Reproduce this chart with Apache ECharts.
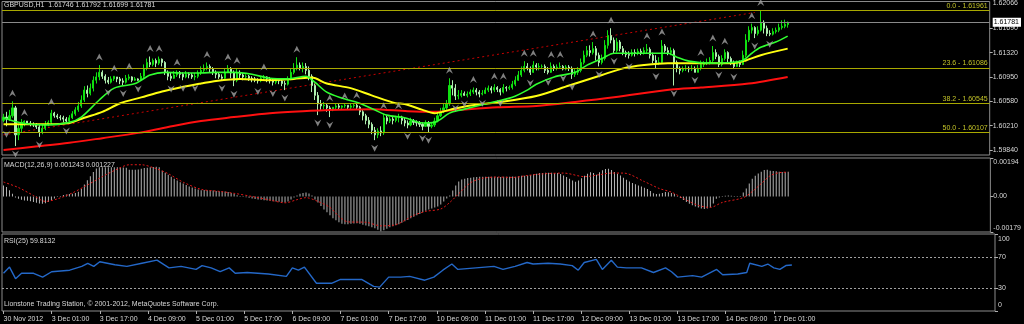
<!DOCTYPE html>
<html><head><meta charset="utf-8">
<script src="https://cdn.jsdelivr.net/npm/echarts@6/dist/echarts.min.js"></script>
<style>html,body{margin:0;padding:0;background:#000;}#c{width:1024px;height:324px;}</style>
</head><body><div id="c"></div>
<script>
const symbolName = 'GBPUSD', period = 'H1';
const timeLabels = ['30 Nov 2012','3 Dec 01:00','3 Dec 17:00','4 Dec 09:00','5 Dec 01:00','5 Dec 17:00','6 Dec 09:00','7 Dec 01:00','7 Dec 17:00','10 Dec 09:00','11 Dec 01:00','11 Dec 17:00','12 Dec 09:00','13 Dec 01:00','13 Dec 17:00','14 Dec 09:00','17 Dec 01:00'];
const labelStep = 16;
const slotCount = 330;

const opens = [1.6029,1.6034,1.6031,1.6036,1.6048,1.6007,1.6017,1.6026,1.6028,1.6025,
1.6023,1.6022,1.6019,1.6011,1.6017,1.6023,1.6026,1.6040,1.6036,1.6034,
1.6033,1.6031,1.6028,1.6033,1.6039,1.6045,1.6051,1.6060,1.6075,1.6070,
1.6078,1.6090,1.6095,1.6102,1.6096,1.6090,1.6087,1.6092,1.6095,1.6092,
1.6089,1.6087,1.6093,1.6095,1.6090,1.6092,1.6090,1.6096,1.6108,1.6117,
1.6114,1.6120,1.6116,1.6122,1.6117,1.6102,1.6096,1.6093,1.6098,1.6102,
1.6099,1.6095,1.6099,1.6098,1.6095,1.6096,1.6101,1.6105,1.6108,1.6111,
1.6107,1.6102,1.6099,1.6095,1.6093,1.6102,1.6108,1.6101,1.6090,1.6102,
1.6098,1.6095,1.6096,1.6093,1.6092,1.6090,1.6089,1.6093,1.6095,1.6092,
1.6090,1.6087,1.6090,1.6089,1.6085,1.6084,1.6092,1.6102,1.6108,1.6113,
1.6108,1.6111,1.6105,1.6096,1.6082,1.6067,1.6054,1.6051,1.6052,1.6048,
1.6045,1.6049,1.6051,1.6049,1.6051,1.6052,1.6049,1.6051,1.6052,1.6049,
1.6042,1.6036,1.6029,1.6023,1.6014,1.6007,1.6013,1.6010,1.6033,1.6028,
1.6031,1.6029,1.6033,1.6034,1.6029,1.6025,1.6022,1.6028,1.6026,1.6025,
1.6023,1.6020,1.6025,1.6020,1.6022,1.6028,1.6036,1.6042,1.6048,1.6054,
1.6082,1.6078,1.6066,1.6067,1.6070,1.6067,1.6069,1.6072,1.6075,1.6072,
1.6069,1.6070,1.6075,1.6078,1.6075,1.6079,1.6076,1.6072,1.6079,1.6078,
1.6079,1.6084,1.6090,1.6098,1.6105,1.6111,1.6108,1.6102,1.6113,1.6110,
1.6111,1.6111,1.6105,1.6102,1.6111,1.6108,1.6110,1.6111,1.6107,1.6110,
1.6108,1.6099,1.6102,1.6105,1.6117,1.6128,1.6135,1.6132,1.6138,1.6128,
1.6117,1.6123,1.6143,1.6158,1.6151,1.6135,1.6148,1.6138,1.6132,1.6129,
1.6128,1.6132,1.6131,1.6134,1.6132,1.6135,1.6137,1.6128,1.6120,1.6117,
1.6117,1.6142,1.6135,1.6132,1.6135,1.6117,1.6108,1.6105,1.6107,1.6108,
1.6107,1.6108,1.6102,1.6108,1.6114,1.6117,1.6117,1.6120,1.6132,1.6126,
1.6114,1.6123,1.6132,1.6123,1.6117,1.6111,1.6116,1.6114,1.6128,1.6151,
1.6166,1.6170,1.6161,1.6166,1.6178,1.6169,1.6161,1.6160,1.6164,1.6166,
1.6170,1.6172,1.61746];

const closes = [1.6034,1.6031,1.6036,1.6048,1.6007,1.6017,1.6026,1.6028,1.6025,1.6023,
1.6022,1.6019,1.6011,1.6017,1.6023,1.6026,1.6040,1.6036,1.6034,1.6033,
1.6031,1.6028,1.6033,1.6039,1.6045,1.6051,1.6060,1.6075,1.6070,1.6078,
1.6090,1.6095,1.6102,1.6096,1.6090,1.6087,1.6092,1.6096,1.6092,1.6089,
1.6087,1.6093,1.6095,1.6090,1.6092,1.6090,1.6096,1.6108,1.6117,1.6114,
1.6120,1.6116,1.6122,1.6117,1.6102,1.6096,1.6093,1.6098,1.6102,1.6099,
1.6095,1.6099,1.6098,1.6095,1.6096,1.6101,1.6105,1.6108,1.6111,1.6107,
1.6102,1.6099,1.6095,1.6093,1.6102,1.6108,1.6101,1.6090,1.6102,1.6098,
1.6095,1.6096,1.6093,1.6092,1.6090,1.6089,1.6093,1.6095,1.6092,1.6090,
1.6087,1.6090,1.6089,1.6085,1.6084,1.6092,1.6102,1.6108,1.6113,1.6108,
1.6111,1.6105,1.6096,1.6082,1.6067,1.6054,1.6051,1.6052,1.6048,1.6045,
1.6049,1.6051,1.6049,1.6051,1.6052,1.6049,1.6051,1.6052,1.6049,1.6042,
1.6036,1.6029,1.6023,1.6014,1.6007,1.6013,1.6010,1.6033,1.6028,1.6031,
1.6029,1.6033,1.6034,1.6029,1.6025,1.6022,1.6028,1.6026,1.6025,1.6023,
1.6020,1.6025,1.6020,1.6022,1.6028,1.6036,1.6042,1.6048,1.6054,1.6082,
1.6078,1.6066,1.6067,1.6070,1.6067,1.6069,1.6072,1.6075,1.6072,1.6069,
1.6070,1.6075,1.6078,1.6075,1.6079,1.6076,1.6072,1.6079,1.6078,1.6079,
1.6084,1.6090,1.6098,1.6105,1.6111,1.6108,1.6102,1.6113,1.6110,1.6111,
1.6111,1.6105,1.6102,1.6111,1.6108,1.6110,1.6111,1.6107,1.6110,1.6108,
1.6099,1.6102,1.6105,1.6117,1.6128,1.6135,1.6132,1.6138,1.6128,1.6117,
1.6123,1.6143,1.6158,1.6151,1.6135,1.6148,1.6138,1.6132,1.6129,1.6128,
1.6132,1.6131,1.6134,1.6132,1.6135,1.6137,1.6128,1.6120,1.6117,1.6117,
1.6142,1.6135,1.6132,1.6135,1.6117,1.6108,1.6105,1.6107,1.6108,1.6107,
1.6108,1.6102,1.6108,1.6114,1.6117,1.6117,1.6120,1.6132,1.6126,1.6114,
1.6123,1.6132,1.6123,1.6117,1.6111,1.6116,1.6114,1.6128,1.6151,1.6166,
1.6170,1.6161,1.6166,1.6178,1.6169,1.6161,1.6160,1.6164,1.6166,1.6170,
1.6172,1.6175,1.61781];

const lows = [1.6026,1.6020,1.6028,1.6033,1.5990,1.5999,1.6011,1.6020,1.6022,1.6020,
1.6019,1.6016,1.6004,1.6008,1.6014,1.6020,1.6023,1.6033,1.6031,1.6029,
1.6026,1.6025,1.6026,1.6031,1.6036,1.6042,1.6048,1.6057,1.6064,1.6067,
1.6073,1.6085,1.6090,1.6092,1.6085,1.6084,1.6085,1.6089,1.6087,1.6084,
1.6082,1.6085,1.6090,1.6087,1.6089,1.6089,1.6089,1.6093,1.6105,1.6110,
1.6111,1.6110,1.6113,1.6111,1.6098,1.6090,1.6089,1.6092,1.6095,1.6093,
1.6090,1.6093,1.6093,1.6092,1.6090,1.6093,1.6098,1.6102,1.6105,1.6102,
1.6098,1.6093,1.6092,1.6090,1.6092,1.6101,1.6093,1.6081,1.6087,1.6093,
1.6090,1.6092,1.6089,1.6087,1.6087,1.6085,1.6087,1.6090,1.6087,1.6085,
1.6082,1.6084,1.6084,1.6081,1.6075,1.6082,1.6090,1.6099,1.6105,1.6105,
1.6102,1.6099,1.6090,1.6072,1.6060,1.6037,1.6045,1.6046,1.6042,1.6034,
1.6043,1.6046,1.6045,1.6046,1.6048,1.6045,1.6046,1.6048,1.6045,1.6037,
1.6029,1.6023,1.6017,1.6008,1.5999,1.6002,1.6005,1.6007,1.6023,1.6025,
1.6023,1.6026,1.6026,1.6023,1.6020,1.6017,1.6020,1.6022,1.6020,1.6019,
1.6014,1.6019,1.6011,1.6017,1.6019,1.6026,1.6034,1.6040,1.6045,1.6051,
1.6067,1.6060,1.6061,1.6064,1.6066,1.6064,1.6066,1.6069,1.6067,1.6064,
1.6067,1.6069,1.6072,1.6070,1.6072,1.6072,1.6067,1.6070,1.6073,1.6075,
1.6076,1.6081,1.6089,1.6095,1.6102,1.6105,1.6098,1.6101,1.6105,1.6105,
1.6107,1.6101,1.6099,1.6101,1.6104,1.6105,1.6107,1.6105,1.6105,1.6104,
1.6092,1.6095,1.6098,1.6102,1.6114,1.6125,1.6126,1.6129,1.6120,1.6111,
1.6114,1.6120,1.6138,1.6146,1.6131,1.6132,1.6134,1.6128,1.6125,1.6123,
1.6126,1.6126,1.6128,1.6128,1.6129,1.6131,1.6123,1.6116,1.6108,1.6113,
1.6116,1.6132,1.6128,1.6128,1.6082,1.6102,1.6099,1.6102,1.6104,1.6102,
1.6104,1.6102,1.6102,1.6105,1.6110,1.6113,1.6114,1.6117,1.6122,1.6110,
1.6111,1.6120,1.6117,1.6113,1.6107,1.6110,1.6110,1.6113,1.6125,1.6148,
1.6161,1.6154,1.6158,1.6164,1.6161,1.6157,1.6157,1.6158,1.6161,1.6163,
1.6167,1.6169,1.61699];

const highs = [1.6039,1.6042,1.6045,1.6058,1.6051,1.6022,1.6031,1.6029,1.6028,1.6028,
1.6026,1.6025,1.6022,1.6023,1.6028,1.6029,1.6045,1.6042,1.6039,1.6037,
1.6036,1.6034,1.6037,1.6043,1.6049,1.6057,1.6067,1.6081,1.6082,1.6085,
1.6096,1.6102,1.6113,1.6105,1.6099,1.6095,1.6096,1.6096,1.6095,1.6095,
1.6093,1.6098,1.6099,1.6096,1.6095,1.6093,1.6101,1.6114,1.6123,1.6126,
1.6123,1.6123,1.6126,1.6123,1.6119,1.6105,1.6101,1.6104,1.6105,1.6104,
1.6102,1.6104,1.6102,1.6101,1.6101,1.6105,1.6111,1.6114,1.6117,1.6114,
1.6110,1.6105,1.6102,1.6099,1.6108,1.6113,1.6110,1.6105,1.6108,1.6105,
1.6101,1.6099,1.6098,1.6096,1.6095,1.6093,1.6096,1.6098,1.6096,1.6095,
1.6093,1.6093,1.6093,1.6092,1.6089,1.6096,1.6108,1.6116,1.6125,1.6117,
1.6117,1.6116,1.6111,1.6099,1.6085,1.6072,1.6060,1.6057,1.6055,1.6051,
1.6049,1.6054,1.6054,1.6052,1.6054,1.6052,1.6054,1.6054,1.6055,1.6051,
1.6045,1.6039,1.6034,1.6026,1.6019,1.6017,1.6020,1.6039,1.6036,1.6034,
1.6034,1.6036,1.6039,1.6036,1.6033,1.6029,1.6033,1.6031,1.6029,1.6028,
1.6026,1.6029,1.6028,1.6026,1.6033,1.6042,1.6048,1.6054,1.6060,1.6093,
1.6090,1.6084,1.6075,1.6075,1.6073,1.6073,1.6076,1.6079,1.6078,1.6075,
1.6075,1.6079,1.6082,1.6081,1.6084,1.6081,1.6078,1.6084,1.6081,1.6082,
1.6089,1.6096,1.6104,1.6111,1.6119,1.6116,1.6111,1.6119,1.6116,1.6116,
1.6114,1.6114,1.6110,1.6117,1.6114,1.6114,1.6117,1.6113,1.6113,1.6113,
1.6111,1.6107,1.6110,1.6123,1.6135,1.6142,1.6143,1.6148,1.6142,1.6132,
1.6129,1.6151,1.6166,1.6169,1.6155,1.6154,1.6151,1.6142,1.6135,1.6134,
1.6137,1.6137,1.6138,1.6138,1.6140,1.6145,1.6140,1.6132,1.6128,1.6125,
1.6151,1.6145,1.6140,1.6140,1.6138,1.6120,1.6111,1.6111,1.6113,1.6111,
1.6113,1.6111,1.6113,1.6120,1.6119,1.6123,1.6125,1.6142,1.6137,1.6129,
1.6128,1.6137,1.6134,1.6126,1.6120,1.6120,1.6120,1.6135,1.6160,1.6172,
1.6176,1.6172,1.6172,1.6196,1.6181,1.6173,1.6166,1.6169,1.6170,1.6176,
1.6181,1.6182,1.61792];

// moving averages: [bar index, price]
const maFast = [[0,1.6033],[6,1.6025],[14,1.6022],[22,1.6026],[26,1.6034],[32,1.6060],[37,1.6078],[44,1.6085],[49,1.6098],[54,1.6102],[59,1.6101],[66,1.6101],[71,1.6102],[77,1.6102],[83,1.6099],[89,1.6093],[95,1.6092],[101,1.6096],[104,1.6087],[108,1.6072],[113,1.6063],[119,1.6055],[124,1.6045],[128,1.6037],[134,1.6033],[140,1.6025],[144,1.6026],[149,1.6040],[153,1.6045],[162,1.6055],[170,1.6064],[175,1.6075],[178,1.6084],[184,1.6095],[191,1.6102],[195,1.6113],[200,1.6123],[204,1.6131],[211,1.6131],[217,1.6131],[222,1.6131],[225,1.6125],[229,1.6119],[236,1.6116],[243,1.6117],[247,1.6120],[250,1.6131],[253,1.6140],[258,1.6148],[262,1.6157]];
const maMid = [[0,1.6023],[14,1.6023],[22,1.6025],[27,1.6033],[33,1.6042],[39,1.6055],[46,1.6064],[53,1.6073],[59,1.6079],[66,1.6085],[71,1.6089],[79,1.6092],[88,1.6090],[97,1.6092],[103,1.6094],[108,1.6085],[116,1.6078],[123,1.6067],[131,1.6055],[134,1.6054],[140,1.6045],[144,1.6040],[149,1.6045],[155,1.6051],[166,1.6057],[178,1.6066],[189,1.6082],[200,1.6098],[207,1.6108],[214,1.6113],[222,1.6116],[229,1.6116],[244,1.6116],[248,1.6120],[253,1.6128],[262,1.6138]];
const maSlow = [[0,1.5984],[10,1.5989],[22,1.5995],[33,1.6002],[45,1.6010],[55,1.6019],[66,1.6028],[77,1.6034],[89,1.6040],[100,1.6043],[112,1.6045],[123,1.6046],[135,1.6043],[143,1.6042],[152,1.6045],[165,1.6049],[178,1.6051],[191,1.6057],[204,1.6064],[223,1.6076],[233,1.6079],[249,1.6085],[262,1.6095]];
const trendLine = [[0,1.6007],[251,1.6193]];

const fibLevels = [0.0, 23.6, 38.2, 50.0];
const fibPrices = [1.61961, 1.61086, 1.60545, 1.60107];

const fractalUp = [3,7,16,32,37,42,49,52,58,68,75,78,87,98,109,114,118,127,132,149,157,164,167,174,177,183,186,197,203,215,220,233,237,241,250,253];
const fractalDown = [1,4,12,21,35,40,45,56,60,64,73,77,85,90,94,105,109,124,135,140,142,151,154,160,166,176,182,187,190,199,204,209,218,224,231,239,244,251,256];

// MACD main (histogram) in units of 1e-5
const macdE5 = [56,48,31,14,-5,-12,-17,-20,-22,-24,
-28,-32,-35,-36,-34,-28,-20,-10,-3,3,
7,10,12,14,18,24,39,61,82,102,
124,141,147,147,147,147,147,147,147,147,
146,145,135,135,135,136,140,143,145,147,
149,150,148,130,120,110,100,90,80,72,
65,58,50,45,40,35,32,33,32,30,
30,28,27,25,25,22,18,14,6,2,
-2,-4,-6,-10,-13,-15,-17,-19,-20,-22,
-24,-25,-27,-28,-30,-25,-15,-5,5,14,
18,20,15,5,-15,-30,-48,-65,-80,-95,
-110,-120,-130,-138,-140,-140,-138,-136,-135,-138,
-142,-146,-150,-155,-160,-168,-175,-170,-162,-155,
-150,-145,-140,-132,-125,-118,-110,-102,-95,-88,
-80,-72,-66,-60,-55,-50,-40,-25,-10,5,
30,55,75,85,90,93,95,97,98,99,
100,100,100,99,99,98,98,99,100,100,
101,100,102,104,105,106,108,112,115,118,
119,120,120,120,119,118,113,106,98,90,
80,74,80,92,105,115,122,118,110,122,
132,138,140,133,124,115,106,95,84,76,
68,62,56,50,44,38,28,16,12,14,
18,22,21,17,12,2,-8,-18,-28,-37,
-44,-50,-55,-60,-63,-60,-55,-35,-12,-5,
2,4,5,4,3,2,3,20,40,65,
90,105,116,125,133,135,130,128,127,125,
124,124,124.3];
// MACD signal: [bar index, value in 1e-5]
const macdSignalE5 = [[0,73],[5,45],[10,5],[14,-25],[18,-12],[23,18],[28,58],[33,100],[38,138],[42,160],[46,160],[51,140],[55,115],[60,72],[66,36],[72,26],[77,16],[83,0],[89,-18],[94,-32],[98,-16],[101,-6],[105,-25],[109,-55],[112,-100],[115,-128],[121,-130],[126,-148],[131,-142],[137,-95],[141,-75],[146,-63],[149,-30],[152,14],[156,70],[160,92],[165,98],[170,96],[175,106],[180,114],[187,118],[194,100],[199,110],[203,118],[207,118],[214,75],[219,40],[223,22],[227,-10],[232,-45],[236,-55],[240,-30],[247,-6],[250,25],[253,65],[256,105],[259,120],[262,122.7]];

// RSI(25): [bar index, value]
const rsiPoints = [[0,49],[2,57],[4,42],[6,49],[10,49],[13,44],[16,51],[22,53],[26,58],[28,62],[30,58],[32,64],[37,60],[41,58],[46,62],[51,66],[55,56],[59,58],[64,54],[66,59],[69,56],[72,51],[75,56],[77,49],[81,50],[88,48],[94,45],[96,56],[98,53],[100,57],[104,36],[109,36],[112,41],[119,41],[123,32],[125,31],[128,44],[132,44],[135,45],[140,40],[143,44],[146,53],[149,61],[151,54],[157,56],[163,58],[166,54],[169,57],[170,58],[174,63],[176,61],[181,62],[185,61],[189,59],[191,53],[193,63],[197,67],[199,54],[202,66],[204,57],[207,56],[212,56],[216,50],[220,56],[222,51],[224,44],[229,46],[232,44],[237,54],[239,47],[244,48],[247,50],[248,62],[252,58],[254,61],[256,56],[258,54],[260,59],[262,59.8132]];
const rsiLevels = [70, 30];

const priceTicks = [1.5984, 1.6021, 1.6058, 1.6095, 1.6132, 1.6169];
const priceTop = 1.62066;
const macdTicks = [0.00194, 0, -0.00179];
const rsiTicks = [100, 70, 30, 0];

// ---------- build ----------
const n = closes.length;
const last = n - 1;
const lastClose = closes[last];
const cats = Array.from({length: slotCount}, (_, i) => i);
const candles = opens.map((o, i) => [o, closes[i], lows[i], highs[i]]);
const macd = macdE5.map(v => v / 1e5);
const macdSignal = macdSignalE5.map(p => [p[0], p[1] / 1e5]);
const upPts = fractalUp.map(i => [i, highs[i]]);
const dnPts = fractalDown.map(i => [i, lows[i]]);

const FONT = 'Liberation Sans, Arial, sans-serif';
const TXT = '#d8d8d8';
const FS = 7;
const isLabelIdx = i => i % labelStep === 0 && i / labelStep < timeLabels.length;

const chart = echarts.init(document.getElementById('c'), null, {renderer: 'canvas'});
const gridBase = {left: 2, width: 993, show: true, borderColor: '#8c8c8c', borderWidth: 1, backgroundColor: '#000'};
const xBase = {type: 'category', data: cats, boundaryGap: true, axisLine: {show: false}, axisTick: {show: false}, axisLabel: {show: false}, splitLine: {show: false}};
const yBase = {type: 'value', position: 'right', axisLine: {show: false}, splitLine: {show: false},
  axisLabel: {color: TXT, fontSize: FS, fontFamily: FONT, margin: 3}};

const fibLines = fibPrices.map((p, k) => ({yAxis: p,
  lineStyle: {color: '#a8a800', width: 1, type: 'solid'},
  label: {show: true, position: 'insideEndTop', distance: [2, 1], formatter: fibLevels[k].toFixed(1) + ' - ' + p.toFixed(5),
    color: '#c4c428', fontSize: FS, fontFamily: FONT}}));

const option = {
  backgroundColor: '#000',
  animation: false,
  textStyle: {fontFamily: FONT},
  grid: [
    Object.assign({}, gridBase, {top: 1, height: 154}),
    Object.assign({}, gridBase, {top: 158, height: 74}),
    Object.assign({}, gridBase, {top: 234, height: 77})
  ],
  xAxis: [
    Object.assign({}, xBase, {gridIndex: 0}),
    Object.assign({}, xBase, {gridIndex: 1}),
    Object.assign({}, xBase, {gridIndex: 2,
      axisTick: {show: true, alignWithLabel: true, length: 3, interval: (i) => isLabelIdx(i), lineStyle: {color: '#b0b0b0'}},
      axisLabel: {show: true, interval: (i) => isLabelIdx(i), formatter: (v, i) => timeLabels[i / labelStep] || '',
        color: TXT, fontSize: FS, fontFamily: FONT, align: 'left', margin: 5}})
  ],
  yAxis: [
    Object.assign({}, yBase, {gridIndex: 0, min: 1.59764, max: 1.62096,
      axisTick: {show: true, length: 3, customValues: priceTicks, lineStyle: {color: '#b0b0b0'}},
      axisLabel: Object.assign({}, yBase.axisLabel, {
        customValues: priceTicks.concat([priceTop, lastClose]),
        formatter: v => Math.abs(v - lastClose) < 1e-9 ? '{cur|' + v.toFixed(5) + '}' : v.toFixed(5),
        rich: {cur: {backgroundColor: '#ffffff', color: '#000000', fontSize: FS, fontFamily: FONT, padding: [1, 2, 1, 1]}}
      })}),
    Object.assign({}, yBase, {gridIndex: 1, min: -0.00179, max: 0.00194,
      axisTick: {show: true, length: 3, customValues: macdTicks, lineStyle: {color: '#b0b0b0'}},
      axisLabel: Object.assign({}, yBase.axisLabel, {customValues: macdTicks, lineHeight: 8,
        formatter: v => v === 0 ? '0.00' : (v > 0 ? '\n' + v.toFixed(5) : v.toFixed(5) + '\n')})}),
    Object.assign({}, yBase, {gridIndex: 2, min: 0, max: 100,
      axisTick: {show: true, length: 3, customValues: rsiTicks, lineStyle: {color: '#b0b0b0'}},
      axisLabel: Object.assign({}, yBase.axisLabel, {customValues: rsiTicks, lineHeight: 11,
        formatter: v => v === 100 ? '\n100' : (v === 0 ? '0\n' : String(v))})})
  ],
  series: [
    {type: 'line', name: 'trend', xAxisIndex: 0, yAxisIndex: 0, data: trendLine, showSymbol: false, z: 2,
      lineStyle: {color: '#c80000', width: 1, type: [2, 3]},
      markLine: {silent: true, symbol: 'none', animation: false, precision: 6,
        data: fibLines.concat([{yAxis: lastClose, lineStyle: {color: '#8a8a8a', width: 1, type: 'solid'}, label: {show: false}}])}},
    {
      type: 'candlestick', name: 'price', xAxisIndex: 0, yAxisIndex: 0, data: candles, barWidth: 1.6, z: 3,
      itemStyle: {color: '#10e010', color0: '#b0f0b0', borderColor: '#10e010', borderColor0: '#b0f0b0', borderWidth: 1}
    },
    {type: 'line', name: 'maSlow', xAxisIndex: 0, yAxisIndex: 0, data: maSlow, showSymbol: false, smooth: 0.3, z: 4,
      lineStyle: {color: '#ff1010', width: 2}},
    {type: 'line', name: 'maMid', xAxisIndex: 0, yAxisIndex: 0, data: maMid, showSymbol: false, smooth: 0.3, z: 4,
      lineStyle: {color: '#ffff10', width: 2}},
    {type: 'line', name: 'maFast', xAxisIndex: 0, yAxisIndex: 0, data: maFast, showSymbol: false, smooth: 0.3, z: 4,
      lineStyle: {color: '#30ff30', width: 1.6}},
    {type: 'scatter', name: 'fractalUp', xAxisIndex: 0, yAxisIndex: 0, data: upPts, clip: false, z: 5,
      symbol: 'path://M5,0 L10,10 L5,6.5 L0,10 Z', symbolSize: [7, 7], symbolOffset: [0, -8],
      itemStyle: {color: '#a0a0a0'}},
    {type: 'scatter', name: 'fractalDown', xAxisIndex: 0, yAxisIndex: 0, data: dnPts, clip: false, z: 5,
      symbol: 'path://M0,0 L5,3.5 L10,0 L5,10 Z', symbolSize: [7, 7], symbolOffset: [0, 8],
      itemStyle: {color: '#a0a0a0'}},
    {type: 'bar', name: 'macd', xAxisIndex: 1, yAxisIndex: 1, data: macd, barWidth: 1, itemStyle: {color: '#b4b4b4'}},
    {type: 'line', name: 'signal', xAxisIndex: 1, yAxisIndex: 1, data: macdSignal, showSymbol: false, smooth: 0.3, z: 4,
      lineStyle: {color: '#e01818', width: 1, type: [2, 2]}},
    {type: 'line', name: 'rsi', xAxisIndex: 2, yAxisIndex: 2, data: rsiPoints, showSymbol: false, z: 4,
      lineStyle: {color: '#2468c8', width: 1.4},
      markLine: {silent: true, symbol: 'none', animation: false, label: {show: false},
        data: rsiLevels.map(v => ({yAxis: v})), lineStyle: {color: '#a0a0a0', width: 1, type: [2, 2]}}}
  ],
  graphic: [
    {type: 'text', left: 4, top: 2, style: {text: symbolName + ',' + period + '  ' + opens[last].toFixed(5) + ' ' + highs[last].toFixed(5) + ' ' + lows[last].toFixed(5) + ' ' + closes[last].toFixed(5), fill: TXT, font: FS + 'px ' + FONT}},
    {type: 'text', left: 4, top: 162, style: {text: 'MACD(12,26,9) ' + (macdE5[last] / 1e5).toFixed(6) + ' ' + (macdSignalE5[macdSignalE5.length - 1][1] / 1e5).toFixed(6), fill: TXT, font: FS + 'px ' + FONT}},
    {type: 'text', left: 4, top: 238, style: {text: 'RSI(25) ' + rsiPoints[rsiPoints.length - 1][1].toFixed(4), fill: TXT, font: FS + 'px ' + FONT}},
    {type: 'text', left: 4, top: 301, style: {text: 'Lionstone Trading Station, \u00a9 2001-2012, MetaQuotes Software Corp.', fill: TXT, font: FS + 'px ' + FONT}}
  ]
};
chart.setOption(option);
</script>
</body></html>
